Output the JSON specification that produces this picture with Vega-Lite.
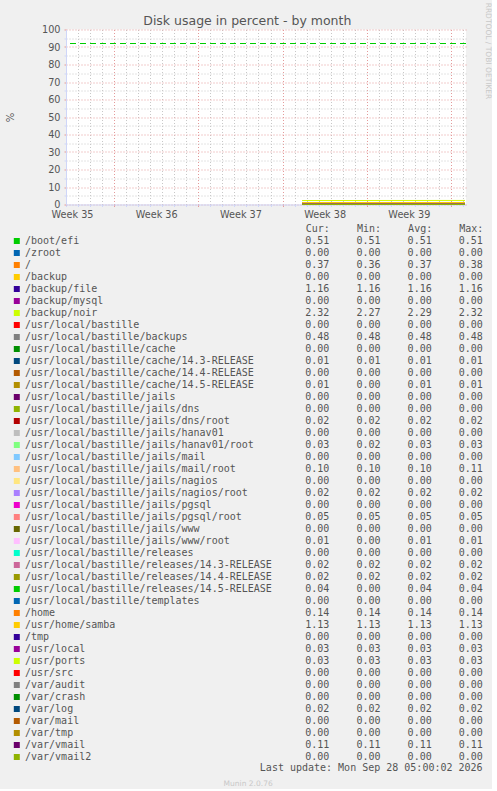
{
  "$schema": "https://vega.github.io/schema/vega-lite/v6.json",
  "background": "#f0f0f0",
  "padding": {"left": 5, "top": 1.5, "right": 0, "bottom": 0},
  "title": {
    "text": "Munin 2.0.76",
    "orient": "bottom",
    "anchor": "middle",
    "frame": "bounds",
    "font": "DejaVu Sans",
    "fontSize": 7.5,
    "fontWeight": "normal",
    "color": "#c8c8c8",
    "baseline": "top",
    "offset": 7
  },
  "config": {
    "view": {"stroke": null},
    "font": "DejaVu Sans"
  },
  "datasets": {
    "series": [
      {"fs": "/boot/efi", "t": "2026-09-15T15:00", "v": 0.51},
      {"fs": "/boot/efi", "t": "2026-09-29T04:00", "v": 0.51},
      {"fs": "/zroot", "t": "2026-09-15T15:00", "v": 0},
      {"fs": "/zroot", "t": "2026-09-29T04:00", "v": 0},
      {"fs": "/", "t": "2026-09-15T15:00", "v": 0.36},
      {"fs": "/", "t": "2026-09-29T04:00", "v": 0.37},
      {"fs": "/backup", "t": "2026-09-15T15:00", "v": 0},
      {"fs": "/backup", "t": "2026-09-29T04:00", "v": 0},
      {"fs": "/backup/file", "t": "2026-09-15T15:00", "v": 1.16},
      {"fs": "/backup/file", "t": "2026-09-29T04:00", "v": 1.16},
      {"fs": "/backup/mysql", "t": "2026-09-15T15:00", "v": 0},
      {"fs": "/backup/mysql", "t": "2026-09-29T04:00", "v": 0},
      {"fs": "/backup/noir", "t": "2026-09-15T15:00", "v": 2.27},
      {"fs": "/backup/noir", "t": "2026-09-29T04:00", "v": 2.32},
      {"fs": "/usr/local/bastille", "t": "2026-09-15T15:00", "v": 0},
      {"fs": "/usr/local/bastille", "t": "2026-09-29T04:00", "v": 0},
      {"fs": "/usr/local/bastille/backups", "t": "2026-09-15T15:00", "v": 0.48},
      {"fs": "/usr/local/bastille/backups", "t": "2026-09-29T04:00", "v": 0.48},
      {"fs": "/usr/local/bastille/cache", "t": "2026-09-15T15:00", "v": 0},
      {"fs": "/usr/local/bastille/cache", "t": "2026-09-29T04:00", "v": 0},
      {"fs": "/usr/local/bastille/cache/14.3-RELEASE", "t": "2026-09-15T15:00", "v": 0.01},
      {"fs": "/usr/local/bastille/cache/14.3-RELEASE", "t": "2026-09-29T04:00", "v": 0.01},
      {"fs": "/usr/local/bastille/cache/14.4-RELEASE", "t": "2026-09-15T15:00", "v": 0},
      {"fs": "/usr/local/bastille/cache/14.4-RELEASE", "t": "2026-09-29T04:00", "v": 0},
      {"fs": "/usr/local/bastille/cache/14.5-RELEASE", "t": "2026-09-15T15:00", "v": 0.01},
      {"fs": "/usr/local/bastille/cache/14.5-RELEASE", "t": "2026-09-29T04:00", "v": 0.01},
      {"fs": "/usr/local/bastille/jails", "t": "2026-09-15T15:00", "v": 0},
      {"fs": "/usr/local/bastille/jails", "t": "2026-09-29T04:00", "v": 0},
      {"fs": "/usr/local/bastille/jails/dns", "t": "2026-09-15T15:00", "v": 0},
      {"fs": "/usr/local/bastille/jails/dns", "t": "2026-09-29T04:00", "v": 0},
      {"fs": "/usr/local/bastille/jails/dns/root", "t": "2026-09-15T15:00", "v": 0.02},
      {"fs": "/usr/local/bastille/jails/dns/root", "t": "2026-09-29T04:00", "v": 0.02},
      {"fs": "/usr/local/bastille/jails/hanav01", "t": "2026-09-15T15:00", "v": 0},
      {"fs": "/usr/local/bastille/jails/hanav01", "t": "2026-09-29T04:00", "v": 0},
      {"fs": "/usr/local/bastille/jails/hanav01/root", "t": "2026-09-15T15:00", "v": 0.02},
      {"fs": "/usr/local/bastille/jails/hanav01/root", "t": "2026-09-29T04:00", "v": 0.03},
      {"fs": "/usr/local/bastille/jails/mail", "t": "2026-09-15T15:00", "v": 0},
      {"fs": "/usr/local/bastille/jails/mail", "t": "2026-09-29T04:00", "v": 0},
      {"fs": "/usr/local/bastille/jails/mail/root", "t": "2026-09-15T15:00", "v": 0.10},
      {"fs": "/usr/local/bastille/jails/mail/root", "t": "2026-09-29T04:00", "v": 0.10},
      {"fs": "/usr/local/bastille/jails/nagios", "t": "2026-09-15T15:00", "v": 0},
      {"fs": "/usr/local/bastille/jails/nagios", "t": "2026-09-29T04:00", "v": 0},
      {"fs": "/usr/local/bastille/jails/nagios/root", "t": "2026-09-15T15:00", "v": 0.02},
      {"fs": "/usr/local/bastille/jails/nagios/root", "t": "2026-09-29T04:00", "v": 0.02},
      {"fs": "/usr/local/bastille/jails/pgsql", "t": "2026-09-15T15:00", "v": 0},
      {"fs": "/usr/local/bastille/jails/pgsql", "t": "2026-09-29T04:00", "v": 0},
      {"fs": "/usr/local/bastille/jails/pgsql/root", "t": "2026-09-15T15:00", "v": 0.05},
      {"fs": "/usr/local/bastille/jails/pgsql/root", "t": "2026-09-29T04:00", "v": 0.05},
      {"fs": "/usr/local/bastille/jails/www", "t": "2026-09-15T15:00", "v": 0},
      {"fs": "/usr/local/bastille/jails/www", "t": "2026-09-29T04:00", "v": 0},
      {"fs": "/usr/local/bastille/jails/www/root", "t": "2026-09-15T15:00", "v": 0.01},
      {"fs": "/usr/local/bastille/jails/www/root", "t": "2026-09-29T04:00", "v": 0.01},
      {"fs": "/usr/local/bastille/releases", "t": "2026-09-15T15:00", "v": 0},
      {"fs": "/usr/local/bastille/releases", "t": "2026-09-29T04:00", "v": 0},
      {"fs": "/usr/local/bastille/releases/14.3-RELEASE", "t": "2026-09-15T15:00", "v": 0.02},
      {"fs": "/usr/local/bastille/releases/14.3-RELEASE", "t": "2026-09-29T04:00", "v": 0.02},
      {"fs": "/usr/local/bastille/releases/14.4-RELEASE", "t": "2026-09-15T15:00", "v": 0.02},
      {"fs": "/usr/local/bastille/releases/14.4-RELEASE", "t": "2026-09-29T04:00", "v": 0.02},
      {"fs": "/usr/local/bastille/releases/14.5-RELEASE", "t": "2026-09-15T15:00", "v": 0.04},
      {"fs": "/usr/local/bastille/releases/14.5-RELEASE", "t": "2026-09-29T04:00", "v": 0.04},
      {"fs": "/usr/local/bastille/templates", "t": "2026-09-15T15:00", "v": 0},
      {"fs": "/usr/local/bastille/templates", "t": "2026-09-29T04:00", "v": 0},
      {"fs": "/home", "t": "2026-09-15T15:00", "v": 0.14},
      {"fs": "/home", "t": "2026-09-29T04:00", "v": 0.14},
      {"fs": "/usr/home/samba", "t": "2026-09-15T15:00", "v": 1.13},
      {"fs": "/usr/home/samba", "t": "2026-09-29T04:00", "v": 1.13},
      {"fs": "/tmp", "t": "2026-09-15T15:00", "v": 0},
      {"fs": "/tmp", "t": "2026-09-29T04:00", "v": 0},
      {"fs": "/usr/local", "t": "2026-09-15T15:00", "v": 0.03},
      {"fs": "/usr/local", "t": "2026-09-29T04:00", "v": 0.03},
      {"fs": "/usr/ports", "t": "2026-09-15T15:00", "v": 0.03},
      {"fs": "/usr/ports", "t": "2026-09-29T04:00", "v": 0.03},
      {"fs": "/usr/src", "t": "2026-09-15T15:00", "v": 0},
      {"fs": "/usr/src", "t": "2026-09-29T04:00", "v": 0},
      {"fs": "/var/audit", "t": "2026-09-15T15:00", "v": 0},
      {"fs": "/var/audit", "t": "2026-09-29T04:00", "v": 0},
      {"fs": "/var/crash", "t": "2026-09-15T15:00", "v": 0},
      {"fs": "/var/crash", "t": "2026-09-29T04:00", "v": 0},
      {"fs": "/var/log", "t": "2026-09-15T15:00", "v": 0.02},
      {"fs": "/var/log", "t": "2026-09-29T04:00", "v": 0.02},
      {"fs": "/var/mail", "t": "2026-09-15T15:00", "v": 0},
      {"fs": "/var/mail", "t": "2026-09-29T04:00", "v": 0},
      {"fs": "/var/tmp", "t": "2026-09-15T15:00", "v": 0},
      {"fs": "/var/tmp", "t": "2026-09-29T04:00", "v": 0},
      {"fs": "/var/vmail", "t": "2026-09-15T15:00", "v": 0.11},
      {"fs": "/var/vmail", "t": "2026-09-29T04:00", "v": 0.11},
      {"fs": "/var/vmail2", "t": "2026-09-15T15:00", "v": 0},
      {"fs": "/var/vmail2", "t": "2026-09-29T04:00", "v": 0}
    ],
    "warning": [{"v": 92}],
    "legend": [
      {"fs": "/boot/efi", "Cur": 0.51, "Min": 0.51, "Avg": 0.51, "Max": 0.51},
      {"fs": "/zroot", "Cur": 0, "Min": 0, "Avg": 0, "Max": 0},
      {"fs": "/", "Cur": 0.37, "Min": 0.36, "Avg": 0.37, "Max": 0.38},
      {"fs": "/backup", "Cur": 0, "Min": 0, "Avg": 0, "Max": 0},
      {"fs": "/backup/file", "Cur": 1.16, "Min": 1.16, "Avg": 1.16, "Max": 1.16},
      {"fs": "/backup/mysql", "Cur": 0, "Min": 0, "Avg": 0, "Max": 0},
      {"fs": "/backup/noir", "Cur": 2.32, "Min": 2.27, "Avg": 2.29, "Max": 2.32},
      {"fs": "/usr/local/bastille", "Cur": 0, "Min": 0, "Avg": 0, "Max": 0},
      {"fs": "/usr/local/bastille/backups", "Cur": 0.48, "Min": 0.48, "Avg": 0.48, "Max": 0.48},
      {"fs": "/usr/local/bastille/cache", "Cur": 0, "Min": 0, "Avg": 0, "Max": 0},
      {"fs": "/usr/local/bastille/cache/14.3-RELEASE", "Cur": 0.01, "Min": 0.01, "Avg": 0.01, "Max": 0.01},
      {"fs": "/usr/local/bastille/cache/14.4-RELEASE", "Cur": 0, "Min": 0, "Avg": 0, "Max": 0},
      {"fs": "/usr/local/bastille/cache/14.5-RELEASE", "Cur": 0.01, "Min": 0, "Avg": 0.01, "Max": 0.01},
      {"fs": "/usr/local/bastille/jails", "Cur": 0, "Min": 0, "Avg": 0, "Max": 0},
      {"fs": "/usr/local/bastille/jails/dns", "Cur": 0, "Min": 0, "Avg": 0, "Max": 0},
      {"fs": "/usr/local/bastille/jails/dns/root", "Cur": 0.02, "Min": 0.02, "Avg": 0.02, "Max": 0.02},
      {"fs": "/usr/local/bastille/jails/hanav01", "Cur": 0, "Min": 0, "Avg": 0, "Max": 0},
      {"fs": "/usr/local/bastille/jails/hanav01/root", "Cur": 0.03, "Min": 0.02, "Avg": 0.03, "Max": 0.03},
      {"fs": "/usr/local/bastille/jails/mail", "Cur": 0, "Min": 0, "Avg": 0, "Max": 0},
      {"fs": "/usr/local/bastille/jails/mail/root", "Cur": 0.10, "Min": 0.10, "Avg": 0.10, "Max": 0.11},
      {"fs": "/usr/local/bastille/jails/nagios", "Cur": 0, "Min": 0, "Avg": 0, "Max": 0},
      {"fs": "/usr/local/bastille/jails/nagios/root", "Cur": 0.02, "Min": 0.02, "Avg": 0.02, "Max": 0.02},
      {"fs": "/usr/local/bastille/jails/pgsql", "Cur": 0, "Min": 0, "Avg": 0, "Max": 0},
      {"fs": "/usr/local/bastille/jails/pgsql/root", "Cur": 0.05, "Min": 0.05, "Avg": 0.05, "Max": 0.05},
      {"fs": "/usr/local/bastille/jails/www", "Cur": 0, "Min": 0, "Avg": 0, "Max": 0},
      {"fs": "/usr/local/bastille/jails/www/root", "Cur": 0.01, "Min": 0, "Avg": 0.01, "Max": 0.01},
      {"fs": "/usr/local/bastille/releases", "Cur": 0, "Min": 0, "Avg": 0, "Max": 0},
      {"fs": "/usr/local/bastille/releases/14.3-RELEASE", "Cur": 0.02, "Min": 0.02, "Avg": 0.02, "Max": 0.02},
      {"fs": "/usr/local/bastille/releases/14.4-RELEASE", "Cur": 0.02, "Min": 0.02, "Avg": 0.02, "Max": 0.02},
      {"fs": "/usr/local/bastille/releases/14.5-RELEASE", "Cur": 0.04, "Min": 0, "Avg": 0.04, "Max": 0.04},
      {"fs": "/usr/local/bastille/templates", "Cur": 0, "Min": 0, "Avg": 0, "Max": 0},
      {"fs": "/home", "Cur": 0.14, "Min": 0.14, "Avg": 0.14, "Max": 0.14},
      {"fs": "/usr/home/samba", "Cur": 1.13, "Min": 1.13, "Avg": 1.13, "Max": 1.13},
      {"fs": "/tmp", "Cur": 0, "Min": 0, "Avg": 0, "Max": 0},
      {"fs": "/usr/local", "Cur": 0.03, "Min": 0.03, "Avg": 0.03, "Max": 0.03},
      {"fs": "/usr/ports", "Cur": 0.03, "Min": 0.03, "Avg": 0.03, "Max": 0.03},
      {"fs": "/usr/src", "Cur": 0, "Min": 0, "Avg": 0, "Max": 0},
      {"fs": "/var/audit", "Cur": 0, "Min": 0, "Avg": 0, "Max": 0},
      {"fs": "/var/crash", "Cur": 0, "Min": 0, "Avg": 0, "Max": 0},
      {"fs": "/var/log", "Cur": 0.02, "Min": 0.02, "Avg": 0.02, "Max": 0.02},
      {"fs": "/var/mail", "Cur": 0, "Min": 0, "Avg": 0, "Max": 0},
      {"fs": "/var/tmp", "Cur": 0, "Min": 0, "Avg": 0, "Max": 0},
      {"fs": "/var/vmail", "Cur": 0.11, "Min": 0.11, "Avg": 0.11, "Max": 0.11},
      {"fs": "/var/vmail2", "Cur": 0, "Min": 0, "Avg": 0, "Max": 0}
    ]
  },
  "bounds": "flush",
  "spacing": 30,
  "vconcat": [
    {
      "title": {
        "text": "Disk usage in percent - by month",
        "anchor": "middle",
        "frame": "group",
        "font": "DejaVu Sans",
        "fontSize": 12.5,
        "fontWeight": "normal",
        "color": "#555555",
        "baseline": "alphabetic",
        "offset": -35,
        "dx": -18.7
      },
      "width": 400,
      "height": 175,
      "view": {"fill": "white", "stroke": null},
      "layer": [
        {
          "data": {"name": "series"},
          "mark": {"type": "line", "strokeWidth": 1},
          "encoding": {
            "x": {
              "field": "t",
              "type": "temporal",
              "scale": {"domain": [{"year": 2026, "month": 8, "date": 27}, {"year": 2026, "month": 9, "date": 29, "hours": 6}]},
              "axis": {
                "title": null,
                "tickCount": {"interval": "day", "step": 1},
                "labelExpr": "day(datum.value) == 4 ? 'Week ' + timeFormat(datum.value, '%V') : ''",
                "labelOffset": 6,
                "labelAlign": "center",
                "labelFlush": false,
                "labelOverlap": false,
                "labelFont": "DejaVu Sans",
                "labelFontSize": 9.7,
                "labelColor": "#555555",
                "labelPadding": 3,
                "grid": true,
                "gridDash": [1, 2],
                "gridColor": {"condition": {"test": "day(datum.value) == 1", "value": "#e49a9a"}, "value": "#c8c8c8"},
                "tickSize": 2,
                "tickColor": {"condition": {"test": "day(datum.value) == 1", "value": "#e49a9a"}, "value": "#cfd6f8"},
                "domainColor": "#cfd6f8"
              }
            },
            "y": {
              "field": "v",
              "type": "quantitative",
              "scale": {"domain": [0, 100], "nice": false},
              "axis": {
                "values": [0, 5, 10, 15, 20, 25, 30, 35, 40, 45, 50, 55, 60, 65, 70, 75, 80, 85, 90, 95, 100],
                "labelExpr": "datum.value % 10 == 0 ? datum.label : ''",
                "labelOverlap": false,
                "labelFont": "DejaVu Sans",
                "labelFontSize": 9.7,
                "labelColor": "#555555",
                "labelPadding": 4,
                "grid": true,
                "gridDash": [1, 2],
                "gridColor": {"condition": {"test": "datum.value % 10 == 0", "value": "#e49a9a"}, "value": "#c8c8c8"},
                "tickSize": 2,
                "tickColor": {"condition": {"test": "datum.value % 10 == 0", "value": "#e49a9a"}, "value": "#cfd6f8"},
                "domainColor": "#cfd6f8",
                "title": "%",
                "titleFont": "DejaVu Sans",
                "titleFontSize": 10,
                "titleFontWeight": "normal",
                "titleColor": "#555555",
                "titlePadding": 26.5
              }
            },
            "color": {
              "field": "fs",
              "type": "nominal",
              "sort": null,
              "legend": null,
              "scale": {
                "range": [
                  "#00CC00", "#0066B3", "#FF8000", "#FFCC00", "#330099", "#990099", "#CCFF00", "#FF0000", "#808080", "#008F00",
                  "#00487D", "#B35A00", "#B38F00", "#6B006B", "#8FB300", "#B30000", "#BEBEBE", "#80FF80", "#80C9FF", "#FFC080",
                  "#FFE680", "#AA80FF", "#EE00CC", "#FF8080", "#666600", "#FFBFFF", "#00FFCC", "#CC6699", "#999900", "#00CC00",
                  "#0066B3", "#FF8000", "#FFCC00", "#330099", "#990099", "#CCFF00", "#FF0000", "#808080", "#008F00", "#00487D",
                  "#B35A00", "#B38F00", "#6B006B", "#8FB300"
                ]
              }
            }
          }
        },
        {
          "data": {"name": "warning"},
          "mark": {"type": "rule", "color": "#00cc00", "stroke": "#00cc00", "strokeWidth": 1, "strokeDash": [6, 4]},
          "encoding": {
            "y": {
              "field": "v",
              "type": "quantitative",
              "scale": {"domain": [0, 100], "nice": false},
              "axis": {
                "orient": "right",
                "grid": false,
                "labels": false,
                "ticks": false,
                "domain": false,
                "title": "RRDTOOL / TOBI OETIKER",
                "titleAngle": 90,
                "titleAlign": "left",
                "titleBaseline": "middle",
                "titleX": 21.3,
                "titleY": -27.3,
                "titleFont": "DejaVu Sans",
                "titleFontSize": 7.5,
                "titleFontWeight": "normal",
                "titleColor": "#c8c8c8"
              }
            }
          }
        }
      ],
      "resolve": {"axis": {"y": "independent"}}
    },
    {
      "data": {"name": "legend"},
      "width": 420,
      "height": 528,
      "title": {
        "text": "Last update: Mon Sep 28 05:00:02 2026",
        "orient": "bottom",
        "anchor": "end",
        "frame": "group",
        "font": "DejaVu Sans Mono",
        "fontSize": 10,
        "fontWeight": "normal",
        "color": "#555555",
        "baseline": "alphabetic",
        "offset": 8.6,
        "dx": -3.4
      },
      "transform": [{"fold": ["Cur", "Min", "Avg", "Max"], "as": ["stat", "val"]}],
      "mark": {"type": "text", "align": "right", "baseline": "middle", "font": "DejaVu Sans Mono", "fontSize": 10, "color": "#555555"},
      "encoding": {
        "x": {
          "field": "stat",
          "type": "nominal",
          "sort": null,
          "scale": {"type": "point", "domain": ["Cur", "Min", "Avg", "Max"], "range": [263.3, 416.9], "padding": 0},
          "axis": {
            "orient": "top",
            "title": null,
            "ticks": false,
            "domain": false,
            "labelAngle": 0,
            "labelExpr": "datum.label + ':'",
            "labelAlign": "right",
            "labelDx": -14.5,
            "labelBaseline": "alphabetic",
            "labelPadding": 3.1,
            "labelFont": "DejaVu Sans Mono",
            "labelFontSize": 10,
            "labelColor": "#555555"
          }
        },
        "y": {
          "field": "fs",
          "type": "nominal",
          "sort": null,
          "scale": {"type": "band", "paddingInner": 0, "paddingOuter": 0},
          "axis": {
            "orient": "left",
            "title": null,
            "domain": false,
            "offset": 46.7,
            "tickSize": 6,
            "tickWidth": 6,
            "tickColor": {"expr": "scale('color', datum.value)"},
            "labelAlign": "left",
            "labelPadding": -11.2,
            "labelLimit": 400,
            "labelFont": "DejaVu Sans Mono",
            "labelFontSize": 10,
            "labelColor": "#555555"
          }
        },
        "text": {"field": "val", "type": "quantitative", "format": ".2f"}
      }
    }
  ]
}
